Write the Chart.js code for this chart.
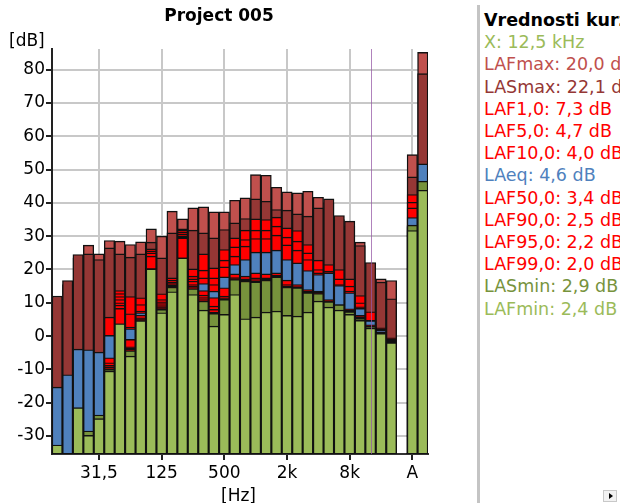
<!DOCTYPE html>
<html>
<head>
<meta charset="utf-8">
<script src="https://cdn.jsdelivr.net/npm/chart.js@4/dist/chart.umd.min.js"></script>
<style>
  html, body { margin: 0; padding: 0; background: #fff; }
  body { width: 620px; height: 503px; overflow: hidden; position: relative;
         font-family: "DejaVu Sans", Verdana, sans-serif; }
  #plot { position: absolute; left: 0; top: 0; }
  .lbl { position: absolute; font-size: 17px; color: #000; white-space: nowrap; }
  #title { left: 0; width: 438px; top: 5px; text-align: center; font-weight: bold; }
  #unitY { left: 9px; top: 30px; }
  #unitX { left: 221px; top: 485px; }
  #sep { position: absolute; left: 477px; top: 5px; bottom: 0; width: 3px; background: #c4c4c4; }
  #values { position: absolute; left: 484px; top: 9px; font-size: 17.5px; line-height: 22.2px; white-space: nowrap; }
  #values .head { font-weight: bold; color: #000; }
  #scrollBtn { position: absolute; left: 603px; top: 490px; width: 14px; height: 12px;
               border: 1px solid #c8c8c8; background: #f2f2f2; box-sizing: border-box; }
  #scrollBtn::after { content: ""; position: absolute; left: 5px; top: 2px;
                      border-left: 4px solid #000; border-top: 3px solid transparent; border-bottom: 3px solid transparent; }
</style>
</head>
<body>
<canvas id="plot" width="476" height="503"></canvas>
<div id="title" class="lbl">Project 005</div>
<div id="unitY" class="lbl">[dB]</div>
<div id="unitX" class="lbl">[Hz]</div>
<div id="sep"></div>
<div id="values"></div>
<div id="scrollBtn"></div>
<script>
// third-octave bands, then an empty slot and the two overall bars
const BANDS = ['12,5', '16', '20', '25', '31,5', '40', '50', '63', '80', '100', '125', '160',
  '200', '250', '315', '400', '500', '630', '800', '1k', '1,25k', '1,6k', '2k', '2,5k',
  '3,15k', '4k', '5k', '6,3k', '8k', '10k', '12,5k', '16k', '20k'];
const TOTALS = ['A', 'A'];
const LABELS = [...BANDS, '', ...TOTALS];
const SHOWN_TICKS = ['31,5', '125', '500', '2k', '8k', 'A'];
const Y_TICKS = [-30, -20, -10, 0, 10, 20, 30, 40, 50, 60, 70, 80];
const Y_MIN = -35.4;
const Y_MAX = 86.2;
const CURSOR_BAND = '12,5k';

// levels in dB per band (null = gap slot)
const LAF_MAX = [11.0, 15.5, 23.5, 27.3, 24.7, 28.7, 28.5, 27.5, 28.3, 32.2, 30.0, 37.5,
  35.2, 38.5, 38.8, 37.3, 37.3, 40.8, 41.5, 48.5, 48.3, 44.7, 43.3, 43.0,
  43.5, 41.7, 40.0, 35.0, 33.0, 28.2, 20.0, 17.2, 16.7, null, 54.5, 85.2];
const LAS_MAX = [12.0, 16.7, 24.5, 24.7, 23.0, 26.5, 24.7, 23.7, 24.7, 28.2, 23.5, 31.0,
  32.2, 31.8, 31.0, 29.5, 32.0, 34.0, 35.3, 41.2, 40.5, 38.0, 37.8, 36.7,
  36.0, 38.5, 41.2, 36.2, 34.5, 27.2, 22.1, 16.2, 11.2, null, 47.8, 78.8];
const LAF1 = [-16.0, -13.0, -5.0, -5.0, -5.5, 5.7, 13.7, 11.9, 11.5, 26.2, 12.7, 17.5,
  31.8, 20.2, 24.7, 20.5, 26.0, 29.5, 31.8, 35.2, 35.0, 35.7, 32.5, 31.7,
  27.5, 22.8, 21.5, 20.0, 17.2, 12.2, 7.3, 2.5, -0.5, null, 42.5, 50.5];
const LAF5 = [-17.0, -14.0, -6.0, -6.0, -6.5, -0.5, 12.8, 6.7, 9.5, 25.6, 11.0, 16.8,
  31.2, 18.0, 19.8, 17.5, 22.8, 26.8, 29.0, 31.8, 31.8, 33.0, 29.7, 28.5,
  25.0, 20.0, 19.5, 17.2, 15.0, 10.0, 4.7, 2.2, -0.8, null, 40.2, 49.5];
const LAF10 = [-18.0, -15.0, -7.0, -7.0, -7.5, -1.0, 11.9, 2.7, 7.5, 25.0, 10.3, 16.2,
  30.6, 17.2, 17.5, 15.5, 20.8, 24.0, 27.0, 29.3, 29.3, 30.3, 27.4, 25.8,
  23.0, 19.0, 19.0, 15.5, 13.5, 8.8, 4.0, 2.0, -1.0, null, 38.5, 49.0];
const LAEQ = [-15.3, -11.6, -3.9, -4.1, -4.8, 0.2, 10.5, 2.2, 7.0, 23.5, 9.5, 15.5,
  29.5, 16.0, 15.8, 13.5, 17.8, 21.5, 23.0, 25.2, 25.2, 25.8, 23.0, 22.0,
  19.7, 18.5, 19.0, 15.2, 13.0, 8.3, 4.6, 1.8, -1.2, null, 35.6, 51.7];
const LAF50 = [-33.0, -36.0, -22.0, -29.0, -24.5, -6.5, 11.0, -1.0, 6.3, 24.0, 9.8, 15.8,
  30.0, 16.5, 13.7, 11.6, 14.5, 18.7, 18.0, 19.0, 18.7, 19.0, 16.8, 15.5,
  14.0, 13.5, 11.0, 9.5, 8.2, 6.2, 3.4, 1.2, -1.4, null, 33.2, 46.0];
const LAF90 = [-33.5, -37.0, -23.0, -30.5, -25.5, -8.0, 10.0, -3.2, 5.5, 20.2, 9.2, 15.4,
  29.8, 15.5, 12.3, 9.0, 12.0, 17.6, 17.2, 17.5, 17.5, 18.3, 15.5, 14.9,
  13.5, 13.2, 10.6, 9.3, 7.8, 5.8, 2.5, 1.0, -1.6, null, 33.0, 45.2];
const LAF95 = [-33.8, -37.5, -23.5, -31.0, -26.0, -8.8, 9.3, -3.7, 5.2, 20.2, 8.8, 15.2,
  29.6, 15.0, 11.6, 8.0, 11.5, 17.3, 17.0, 17.0, 17.1, 18.0, 15.0, 14.7,
  13.2, 13.0, 10.4, 9.2, 7.6, 5.6, 2.2, 0.9, -1.7, null, 32.8, 44.9];
const LAF99 = [-34.0, -38.0, -24.0, -31.5, -26.5, -9.4, 8.3, -4.0, 4.9, 20.2, 8.5, 15.0,
  29.5, 14.6, 11.0, 7.2, 11.1, 17.0, 16.8, 16.5, 16.8, 17.8, 14.7, 14.5,
  13.0, 13.0, 10.3, 9.1, 7.5, 5.5, 2.0, 0.8, -1.8, null, 32.6, 44.6];
const LAS_MIN = [-33.2, -38.5, -22.0, -28.5, -23.7, -10.0, 3.7, -4.4, 4.6, 20.2, 8.0, 14.7,
  23.5, 14.2, 10.5, 6.8, 11.0, 17.0, 16.5, 16.3, 16.8, 17.8, 14.7, 14.5,
  13.0, 12.8, 10.3, 9.4, 7.3, 5.3, 2.9, 0.8, -1.9, null, 33.3, 46.5];
const LAF_MIN = [-32.7, -38.0, -21.5, -29.8, -24.8, -10.5, 3.7, -6.0, 4.6, 20.2, 7.0, 13.3,
  23.5, 12.5, 7.8, 3.0, 6.5, 12.5, 5.2, 5.7, 7.2, 7.5, 6.2, 6.0,
  7.2, 10.5, 8.7, 7.8, 6.5, 4.7, 2.4, 0.8, -2.0, null, 31.7, 43.8];

const RED = '#ff0000';
const SERIES = [
  { name: 'LAFmax', data: LAF_MAX, color: '#c0504d' },
  { name: 'LASmax', data: LAS_MAX, color: '#953735' },
  { name: 'LAF1,0', data: LAF1, color: RED },
  { name: 'LAF5,0', data: LAF5, color: RED },
  { name: 'LAF10,0', data: LAF10, color: RED },
  { name: 'LAeq', data: LAEQ, color: '#4f81bd' },
  { name: 'LAF50,0', data: LAF50, color: RED },
  { name: 'LAF90,0', data: LAF90, color: RED },
  { name: 'LAF95,0', data: LAF95, color: RED },
  { name: 'LAF99,0', data: LAF99, color: RED },
  { name: 'LASmin', data: LAS_MIN, color: '#77933c' },
  { name: 'LAFmin', data: LAF_MIN, color: '#9bbb59' },
];

const FONT = { family: '"DejaVu Sans", Verdana, sans-serif', size: 17 };
const cursorIndex = LABELS.indexOf(CURSOR_BAND);
const fmt = v => v.toFixed(1).replace('.', ',');

// side panel with the values at the cursor band
const panel = document.getElementById('values');
const freqText = CURSOR_BAND.endsWith('k') ? CURSOR_BAND.slice(0, -1) + ' kHz' : CURSOR_BAND + ' Hz';
const lines = [`<div class="head">Vrednosti kurzorja</div>`,
  `<div style="color:#9bbb59">X: ${freqText}</div>`];
for (const s of SERIES) {
  lines.push(`<div style="color:${s.color}">${s.name}: ${fmt(s.data[cursorIndex])} dB</div>`);
}
panel.innerHTML = lines.join('');

// vertical cursor marker over the bars
const cursorLine = {
  id: 'cursorLine',
  afterDatasetsDraw(chart) {
    const { ctx, chartArea: a, scales: { x } } = chart;
    const px = Math.round(x.getPixelForValue(cursorIndex)) + 0.5;
    ctx.save();
    ctx.strokeStyle = 'rgba(150,90,165,0.75)';
    ctx.lineWidth = 1;
    ctx.beginPath();
    ctx.moveTo(px, a.top);
    ctx.lineTo(px, a.bottom);
    ctx.stroke();
    ctx.restore();
  },
};

// every level is a bar from the bottom of the axis; later ones paint over earlier ones
const datasets = SERIES.map((s, i) => ({
  label: s.name,
  data: s.data,
  backgroundColor: s.color,
  borderColor: '#111',
  borderWidth: 1.4,
  borderSkipped: false,
  base: Y_MIN,
  grouped: false,
  barPercentage: 1,
  categoryPercentage: 1,
  order: SERIES.length - i,
  clip: 0,
}));

new Chart(document.getElementById('plot'), {
  type: 'bar',
  data: { labels: LABELS, datasets },
  plugins: [cursorLine],
  options: {
    responsive: false,
    animation: false,
    devicePixelRatio: 1,
    layout: { padding: { left: 0, top: 49, right: 48, bottom: 0 } },
    plugins: { legend: { display: false }, tooltip: { enabled: false } },
    scales: {
      x: {
        afterFit: s => { s.height = 49; },
        afterBuildTicks: s => { s.ticks = SHOWN_TICKS.map(l => ({ value: LABELS.indexOf(l) })); },
        grid: { offset: false, color: '#c8c8c8', lineWidth: 2, tickColor: '#222', tickLength: 6, tickWidth: 2 },
        border: { color: '#333', width: 2 },
        ticks: { autoSkip: false, maxRotation: 0, font: FONT, color: '#000', padding: 3 },
      },
      y: {
        min: Y_MIN,
        max: Y_MAX,
        bounds: 'data',
        afterFit: s => { s.width = 52; },
        afterBuildTicks: s => { s.ticks = Y_TICKS.map(v => ({ value: v })); },
        grid: { color: '#c8c8c8', lineWidth: 2, tickColor: '#222', tickLength: 6, tickWidth: 2 },
        border: { color: '#222', width: 2 },
        ticks: { font: FONT, color: '#000', padding: 1, callback: v => String(v) },
      },
    },
  },
});
</script>
</body>
</html>
